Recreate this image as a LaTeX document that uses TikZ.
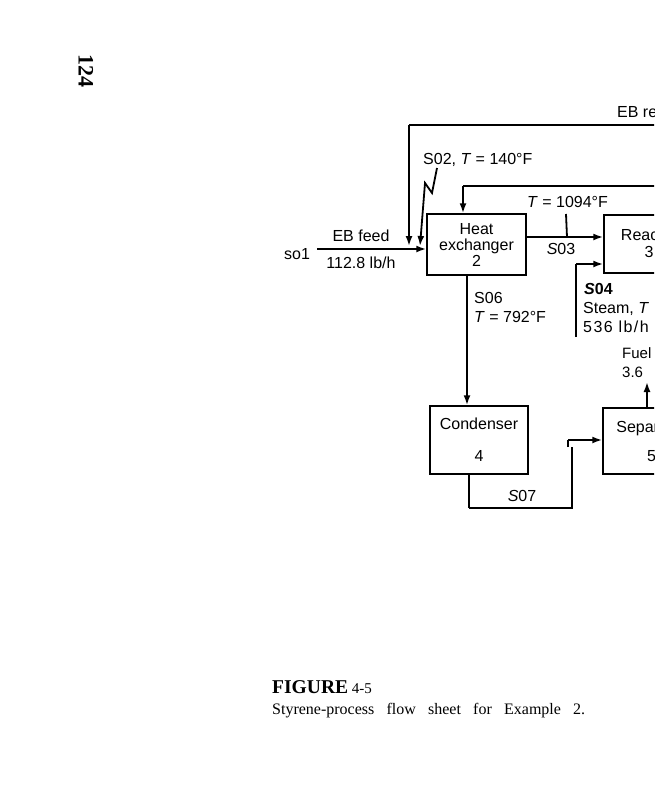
\documentclass[tikz,border=0pt]{standalone}
\usepackage{fontspec}
\setmainfont{Liberation Serif}
\newfontfamily\hv{Liberation Sans}
\newfontfamily\hvsp[LetterSpace=9]{Liberation Sans}
\usetikzlibrary{arrows.meta}
\begin{document}
\begin{tikzpicture}[x=1pt,y=-1pt,
  unit/.style={draw,line width=1.5pt,inner sep=0pt,align=center,
    font=\hv\fontsize{16}{18}\selectfont},
  lbl/.style={inner sep=0pt,font=\hv\fontsize{16}{18}\selectfont},
  slbl/.style={inner sep=0pt,font=\hv\fontsize{15}{17}\selectfont},
  stream/.style={line width=1.8pt},
  thin/.style={line width=1.2pt},
  arr/.style={-{Latex[length=10pt,width=7pt]}}]
\useasboundingbox (0,0) rectangle (654,800);
\clip (0,0) rectangle (654,800);
\fill[white] (0,0) rectangle (654,800);

% page number
\node[rotate=-90,inner sep=0pt,font=\bfseries\fontsize{22}{22}\selectfont] (pg) at (86,71) {124};

% units
\node[unit,minimum width=99pt,minimum height=61pt] (hx) at (476.5,244.5)
  {Heat\\[-2pt]exchanger\\[-2pt]2};
\node[unit,minimum width=90pt,minimum height=58pt] (reac) at (649,244)
  {Reactor\\[-1pt]3};
\node[unit,minimum width=98pt,minimum height=68pt] (cond) at (479,440)
  {Condenser\\[14pt]4};
\node[unit,minimum width=97pt,minimum height=66pt] (sep) at (651.5,441)
  {Separator\\[11pt]5};

% feed
\coordinate (f0) at (317,249);
\draw[stream,arr] (f0) -- (f0 -| hx.west);
\node[lbl] (so1) at (297,254) {so1};
\node[lbl] (ebf) at (361,236) {EB feed};
\node[lbl] (fm) at (361,263) {112.8 lb/h};

% EB recycle
\coordinate (r0) at (670,125);
\coordinate (r1) at (409,125);
\coordinate (r2) at (409,246);
\draw[stream] (r0) -- (r1);
\draw[stream,arr] (r1) -- (r2);
\node[lbl,anchor=west] (ebr) at (617,113) {EB recycle};

% S02 zigzag
\coordinate (z0) at (437,168);
\coordinate (z1) at (432,193);
\coordinate (z2) at (425,183);
\coordinate (z3) at (420,246);
\draw[stream,arr] (z0) -- (z1) -- (z2) -- (z3);
\node[lbl,anchor=west] (s02) at (423,160) {S02, \textit{T} = 140°F};

% top recycle into HX
\coordinate (t0) at (670,186);
\coordinate (t1) at (463,186);
\draw[stream] (t0) -- (t1);
\draw[stream,arr] (t1) -- (t1 |- hx.north);

% S03
\coordinate (tick) at (567,237);
\coordinate (tick0) at (566,214);
\draw[stream,arr] (hx.east |- tick) -- (reac.west |- tick);
\draw[stream] (tick0) -- (tick);
\node[lbl,anchor=west] (t1094) at (527,202) {\textit{T} = 1094°F};
\node[lbl] (s03) at (561,249) {\textit{S}03};

% S04
\coordinate (a0) at (576,337);
\coordinate (a1) at (576,264);
\draw[thin] (a0) -- (a1);
\draw[stream,arr] (a1) -- (a1 -| reac.west);
\node[lbl,anchor=west] (s04) at (584,289) {\textit{\bfseries S}\textbf{04}};
\node[lbl,anchor=west] (steam) at (583,309) {Steam, \textit{T}};
\node[lbl,anchor=west,font=\hvsp\fontsize{16}{18}\selectfont] (sm) at (583,327) {536 lb/h};

% S06
\coordinate (c0) at (467,300);
\draw[stream,arr] (c0 |- hx.south) -- (c0 |- cond.north);
\node[lbl,anchor=west] (s06) at (474,298) {S06};
\node[lbl,anchor=west] (t792) at (474,317) {\textit{T} = 792°F};

% S07
\coordinate (d0) at (469,508);
\coordinate (d1) at (572,508);
\coordinate (d2) at (572,447);
\coordinate (d3) at (568,447);
\coordinate (d4) at (568,440);
\draw[stream] (d0 |- cond.south) -- (d0);
\draw[thin] (d0) -- (d1) -- (d2);
\draw[thin] (d3) -- (d4);
\draw[stream,arr] (d4) -- (d4 -| sep.west);
\node[lbl] (s07) at (522,496) {\textit{S}07};

% fuel
\coordinate (u0) at (647,382);
\draw[stream,arr] (u0 |- sep.north) -- (u0);
\node[slbl,anchor=west] (fuel) at (622,353) {Fuel};
\node[slbl,anchor=west] (fuelm) at (622,372) {3.6};

% caption
\node[anchor=base west,inner sep=0pt,font=\fontsize{15}{15}\selectfont] (cap1) at (272,693)
  {\resizebox{76pt}{!}{\bfseries FIGURE}\ 4-5};
\node[anchor=base west,inner sep=0pt,font=\fontsize{16}{16}\selectfont] (cap2) at (272,714)
  {\makebox[313pt][s]{Styrene-process flow sheet for Example 2.}};
\end{tikzpicture}
\end{document}
